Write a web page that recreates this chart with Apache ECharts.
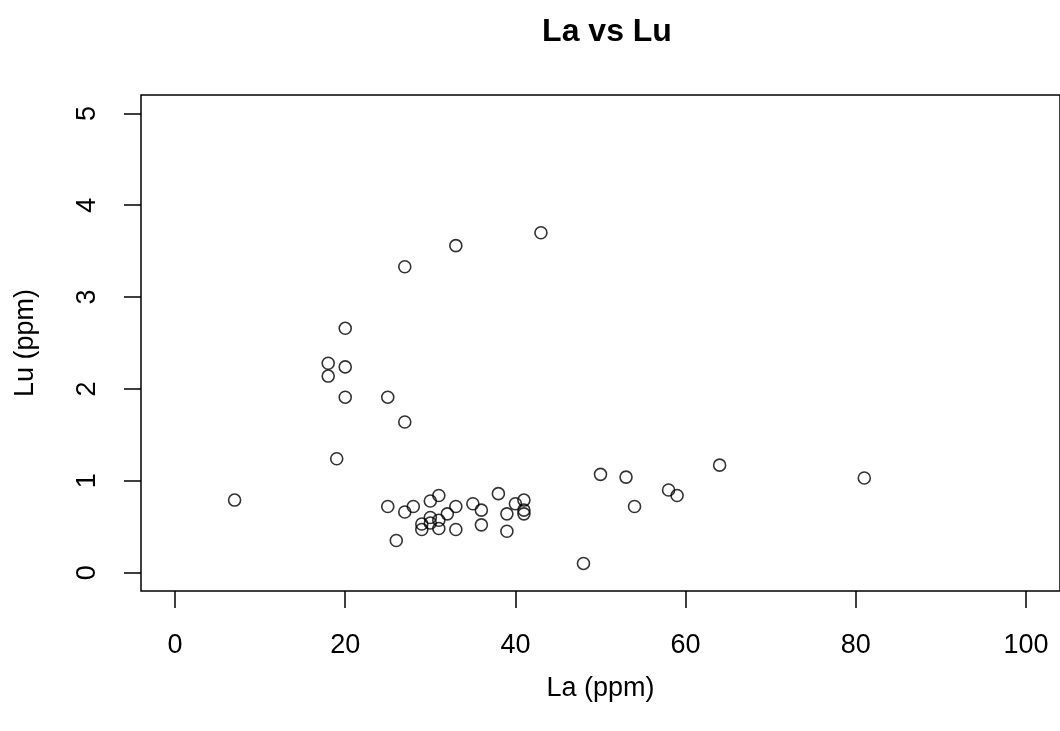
<!DOCTYPE html>
<html>
<head>
<meta charset="utf-8">
<script src="https://cdn.jsdelivr.net/npm/echarts@6/dist/echarts.min.js"></script>
<style>html,body{margin:0;padding:0;background:#fff}#c{width:1060px;height:731px}</style>
</head>
<body>
<div id="c"></div>
<script>
var laValues = [7,18,18,19,20,20,20,25,25,26,27,27,27,28,29,29,30,30,30,31,31,31,32,33,33,33,35,36,36,38,39,39,40,41,41,41,43,48,50,53,54,58,59,64,81];
var luValues = [0.79,2.28,2.14,1.24,2.66,2.24,1.91,1.91,0.72,0.35,3.33,1.64,0.66,0.72,0.53,0.47,0.78,0.60,0.54,0.84,0.57,0.48,0.64,3.56,0.72,0.47,0.75,0.68,0.52,0.86,0.64,0.45,0.75,0.79,0.68,0.64,3.70,0.10,1.07,1.04,0.72,0.90,0.84,1.17,1.03];
var xTicks = [0,20,40,60,80,100];
var yTicks = [0,1,2,3,4,5];

var pts = laValues.map(function(v,i){return [v, luValues[i]];});
var font = 'Liberation Sans, Arial, sans-serif';
var chart = echarts.init(document.getElementById('c'), null, {renderer:'canvas'});
chart.setOption({
  animation:false,
  backgroundColor:'#fff',
  title:{text:'La vs Lu', left:602, textAlign:'center', top:11,
    textStyle:{fontFamily:font, fontSize:32, fontWeight:'bold', color:'#000'}},
  grid:{left:141, right:-5, top:95, bottom:140, show:true, borderColor:'#000', borderWidth:1.5, backgroundColor:'transparent'},
  xAxis:{type:'value', min:-4, max:104, position:'bottom',
    name:'La (ppm)', nameLocation:'middle', nameGap:84,
    nameTextStyle:{fontFamily:font, fontSize:27, color:'#000'},
    axisLine:{show:false, onZero:false},
    axisTick:{show:true, length:17, inside:false, customValues:xTicks, lineStyle:{color:'#000', width:1.5}},
    axisLabel:{customValues:xTicks, margin:41, fontFamily:font, fontSize:27, color:'#000'},
    splitLine:{show:false}},
  yAxis:{type:'value', min:-0.2, max:5.2, position:'left',
    name:'Lu (ppm)', nameLocation:'middle', nameGap:102, nameRotate:90,
    nameTextStyle:{fontFamily:font, fontSize:27, color:'#000'},
    axisLine:{show:false, onZero:false},
    axisTick:{show:true, length:17, inside:false, customValues:yTicks, lineStyle:{color:'#000', width:1.5}},
    axisLabel:{customValues:yTicks, rotate:90, margin:40, fontFamily:font, fontSize:27, color:'#000'},
    splitLine:{show:false}},
  series:[{type:'scatter', data:pts, symbol:'circle', symbolSize:12,
    itemStyle:{color:'rgba(0,0,0,0)', borderColor:'#000', borderWidth:1.6}}]
});
</script>
</body>
</html>
